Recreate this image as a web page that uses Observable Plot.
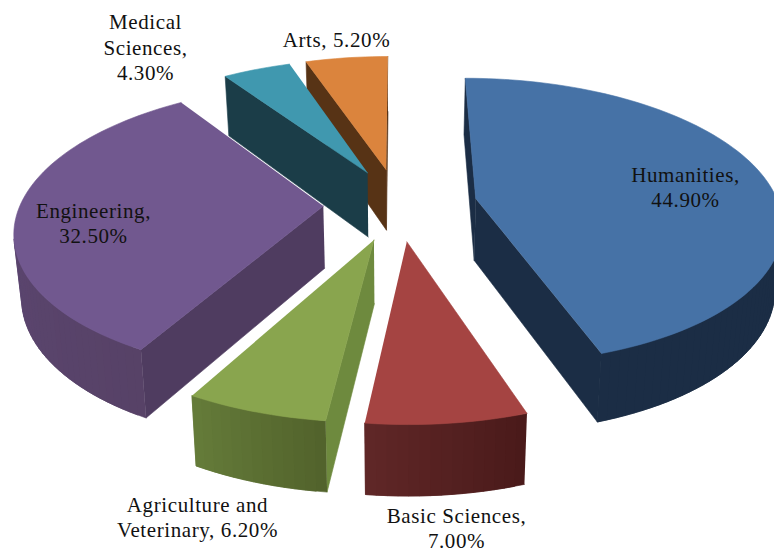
<!DOCTYPE html>
<html>
<head>
<meta charset="utf-8">
<style>html,body{margin:0;padding:0;background:#fff}</style>
<script src="https://cdn.jsdelivr.net/npm/d3@7"></script>
<script src="https://cdn.jsdelivr.net/npm/@observablehq/plot@0.6"></script>
</head>
<body>
<script>
const categories = ["Humanities","Basic Sciences","Agriculture and Veterinary","Engineering","Medical Sciences","Arts"];
const shares = [44.9, 7.0, 6.2, 32.5, 4.3, 5.2];
const labelLines = [
  ["Humanities,","44.90%"],
  ["Basic Sciences,","7.00%"],
  ["Agriculture and","Veterinary, 6.20%"],
  ["Engineering,","32.50%"],
  ["Medical","Sciences,","4.30%"],
  ["Arts, 5.20%"]
];
const topColors = ["#4672a6","#a54442","#89a54e","#71588f","#4098af","#db843d"];
const sideColors = ["#1b2d45","#7a3a3a","#6e8a3e","#4f3c60","#1b3d48","#573315"];
const wallStart = ["#1b2d45","#4a1a1a","#52632c","#574267","#1b3d48","#573315"];
const wallEnd   = ["#1b2d45","#612828","#667d3a","#604a7a","#1b3d48","#573315"];
const explode = [0.26,0.255,0.255,0.248,0.26,0.26];
const nudgeX = [0,0,0,0,0.01,0];
const depthScale = [1,1,1,1,1.06,1];
const labelPos = [[685,186],[456,527],[197,516],[93,222],[145,46],[336,38]];
const drawOrder = [5,4,0,3,2,1];

const cx=398, cy=204, Rpx=303, kR=141, a=0.157, depth=62, startDeg=0;
const arcs = d3.pie().sort(null).value(d=>d).startAngle(startDeg*Math.PI/180).endAngle((360+startDeg)*Math.PI/180)(shares);

function project(X,Z,h){
  const s=1/(1+a*Z);
  return [cx+Rpx*X*s*(1-0.02*h), cy-kR*Z*s+depth*h*Math.pow(s,0.65)];
}
const vertices=[];
function addFace(id,pts,fill){ for(const [x,y] of pts) vertices.push({face:id,x,y,fill}); }
function signedArea(p){let A=0;for(let i=0;i<p.length;i++){const q=p[(i+1)%p.length];A+=p[i][0]*q[1]-q[0]*p[i][1];}return A/2;}

for(const i of drawOrder){
  const {startAngle:a0,endAngle:a1}=arcs[i];
  const mid=(a0+a1)/2, ox=explode[i]*Math.sin(mid)+nudgeX[i], oz=explode[i]*Math.cos(mid);
  const rim=t=>[ox+Math.sin(t),oz+Math.cos(t)];
  const n=Math.max(8,Math.ceil((a1-a0)/0.03));
  const ts=d3.range(n+1).map(k=>a0+(a1-a0)*k/n);
  const h1=depthScale[i];
  const P=(pt,h)=>project(pt[0],pt[1],h);
  const apex=[ox,oz];
  [[apex,rim(a0),"a"],[rim(a1),apex,"b"]].forEach(([u,v,t])=>{
    const q=[P(u,0),P(v,0),P(v,h1),P(u,h1)];
    if(signedArea(q)<0) addFace(`${i}-${t}`,q,sideColors[i]);
  });
  const shade=d3.interpolateRgb(wallStart[i],wallEnd[i]);
  for(let k=0;k<n;k++){
    const u=rim(ts[k]),v=rim(ts[k+1]);
    const q=[P(u,0),P(v,0),P(v,h1),P(u,h1)];
    if(signedArea(q)<0){
      // each strip runs on under the next one, so no seam shows between them
      const w=rim(ts[Math.min(k+2,n)]);
      addFace(`${i}-w${k}`,[P(u,0),P(w,0),P(w,h1),P(u,h1)],shade(k/n));
    }
  }
  addFace(`${i}-top`,[P(apex,0),...ts.map(t=>P(rim(t),0))],topColors[i]);
}

const labels=categories.map((c,i)=>({category:c,text:labelLines[i].join("\n"),x:labelPos[i][0],y:labelPos[i][1]}));

const chart=Plot.plot({
  width:774,height:553,margin:0,
  x:{domain:[0,774],range:[0,774],axis:null},
  y:{domain:[0,553],range:[0,553],axis:null},
  color:{type:"identity"},
  style:{fontFamily:"'Liberation Serif',serif",background:"#fff",letterSpacing:"0.6px"},
  marks:[
    Plot.line(vertices,{x:"x",y:"y",z:"face",fill:"fill",stroke:"fill",strokeWidth:0.6,curve:"linear"}),
    Plot.text(labels,{x:"x",y:"y",text:"text",fontSize:21,lineHeight:1.2,fill:"#111",textAnchor:"middle"})
  ]
});
document.body.appendChild(chart);
</script>
</body>
</html>
